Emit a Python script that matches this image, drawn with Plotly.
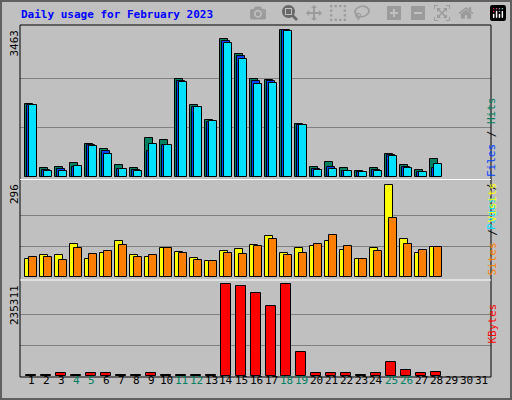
import plotly.graph_objects as go

days = list(range(1, 29))
hits = [1700,196,227,313,760,650,266,196,908,853,2310,1676,1331,3250,2897,2310,2286,3463,1229,227,337,196,125,196,525,266,149,407]
files = [1676,157,172,235,736,595,188,157,595,736,2255,1629,1284,3195,2850,2263,2247,3445,1214,180,227,133,110,164,501,227,117,196]
pages = [1676,125,125,243,713,525,172,125,760,736,2239,1629,1300,3156,2780,2192,2216,3437,1206,149,180,125,102,125,493,211,102,290]
sites = [56,69,69,104,56,75,114,69,62,91,78,59,49,82,88,101,130,75,91,98,114,85,56,91,296,120,75,94]
visits = [62,65,53,91,72,82,101,62,69,91,75,53,49,75,72,98,120,69,75,104,133,98,56,82,188,104,85,94]
kbytes = [1500,1500,6000,1500,6000,6000,1500,1500,6000,1500,1500,1500,1500,235311,230160,212120,178630,235311,60100,6000,6000,6000,1500,6000,34350,13740,6000,8590]
tick_labels = [str(d) for d in range(1, 32)]
weekend = {4,5,11,12,18,19,25,26}

W, H = 512, 400
def py(y): return 1 - y / H
def px(x): return x / W

fig = go.Figure()
line = dict(color="black", width=1)
def bar(y, ax, color, off, w):
    fig.add_trace(go.Bar(x=days, y=y, xaxis="x" if ax == 1 else f"x{ax}", yaxis="y" if ax == 1 else f"y{ax}",
                         marker=dict(color=color, line=line), offset=off, width=w, showlegend=False))
bar(hits, 1, "#008060", -0.38, 0.5)
bar(files, 1, "#0040FF", -0.25, 0.5)
bar(pages, 1, "#00E0FF", -0.11, 0.49)
bar(sites, 2, "#FFFF00", -0.38, 0.49)
bar(visits, 2, "#FF8000", -0.11, 0.49)
bar(kbytes, 3, "#FF0000", -0.33, 0.66)

xr = [1 - 11/15, 1 + 460/15]
xdom = [px(20), px(491)]
common_x = dict(range=xr, domain=xdom, showticklabels=False, showgrid=False, zeroline=False)
def yax(top, bot, mx, base_y, top_y):
    scale = mx / (base_y - top_y)
    lo = -(bot - base_y) * scale
    hi = mx + (top_y - top) * scale
    return dict(domain=[py(bot), py(top)], range=[lo, hi], tickvals=[mx/3, 2*mx/3],
                showticklabels=False, showgrid=True, gridcolor="#808080", gridwidth=1, zeroline=False)

fig.update_layout(
    width=W, height=H, margin=dict(l=0, r=0, t=0, b=0),
    paper_bgcolor="#C0C0C0", plot_bgcolor="#C0C0C0", barmode="overlay", bargap=0,
    font=dict(family="DejaVu Sans Mono", size=10, color="black"),
    xaxis=dict(**common_x, anchor="y"),
    xaxis2=dict(**common_x, anchor="y2"),
    xaxis3=dict(**common_x, anchor="y3"),
    yaxis=dict(**yax(25, 179, 3463, 176.7, 29.5), anchor="x"),
    yaxis2=dict(**yax(180, 279, 296, 276.7, 184.7), anchor="x2"),
    yaxis3=dict(**yax(280, 377, 235311, 375.7, 284.3), anchor="x3"),
)

shapes = [
    dict(type="rect", xref="paper", yref="paper", x0=px(1), x1=px(511), y0=py(399), y1=py(1), line=dict(color="#606060", width=2)),
    dict(type="rect", xref="paper", yref="paper", x0=px(20), x1=px(491), y0=py(377), y1=py(25), line=dict(color="black", width=1)),
    dict(type="line", xref="paper", yref="paper", x0=px(20), x1=px(491), y0=py(179.5), y1=py(179.5), line=dict(color="white", width=1)),
    dict(type="line", xref="paper", yref="paper", x0=px(20), x1=px(491), y0=py(280), y1=py(280), line=dict(color="white", width=1)),
]
fig.update_layout(shapes=shapes)

ann = [dict(text="<b>Daily usage for February 2023</b>", x=px(19), y=py(15), xref="paper", yref="paper",
            xanchor="left", yanchor="middle", showarrow=False, font=dict(color="#0000FF", size=11))]
for lab, ytop in [("3463", 28), ("296", 182), ("235311", 283)]:
    ann.append(dict(text=lab, x=px(14), y=py(ytop), xref="paper", yref="paper", textangle=-90,
                    xanchor="center", yanchor="top", showarrow=False, font=dict(size=11)))
ann.append(dict(text='<span style="color:#00E0FF">Pages</span> / <span style="color:#0040FF">Files</span> / <span style="color:#008060">Hits</span>',
                x=px(500), y=py(95), xref="paper", yref="paper", textangle=-90, showarrow=False, font=dict(size=11, color="black")))
ann.append(dict(text='<span style="color:#FF8000">Sites</span> / <span style="color:#FFFF00">Visits</span>',
                x=px(500), y=py(229), xref="paper", yref="paper", textangle=-90, showarrow=False, font=dict(size=11, color="black")))
ann.append(dict(text='<span style="color:#FF0000">KBytes</span>',
                x=px(500), y=py(346), xref="paper", yref="paper", textangle=-90, showarrow=False, font=dict(size=11)))
for i, t in enumerate(tick_labels):
    d = i + 1
    ann.append(dict(text=t, x=d, xref="x3", y=py(389), yref="paper", showarrow=False,
                    font=dict(size=11, color="#008060" if d in weekend else "black")))
fig.update_layout(annotations=ann)

fig.write_html("out.html", post_script="document.body.style.margin='0';document.body.style.overflow='hidden';")
